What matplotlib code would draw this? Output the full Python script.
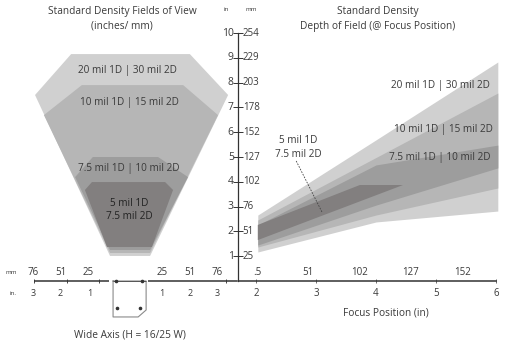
from matplotlib import pyplot as plt

W, H = 506, 345
plt.rcParams['font.family'] = ['Open Sans', 'DejaVu Sans']
TEXT = '#3a3a3a'

# scales of the picture: pixels per inch and where the zero of each axis sits
FOV_X0, FOV_SCALE = 125, 30.6
DOF_X2, DOF_SCALE = 256, 60
Y0, Y_SCALE = 281, 24.8

# field of view outlines, inches (wide axis, distance)
fov_20_x = [-1.76, 2.12, 3.37, 0.82, -0.49, -2.94]
fov_20_y = [9.15, 9.15, 7.50, 1.01, 1.01, 7.50]
fov_10_x = [-1.41, 1.90, 3.04, 0.82, -0.49, -2.65]
fov_10_y = [7.90, 7.90, 6.69, 1.13, 1.13, 6.69]
fov_75_x = [-1.05, 1.08, 2.06, 0.82, -0.49, -1.63]
fov_75_y = [5.00, 5.00, 4.19, 1.25, 1.25, 4.19]
fov_5_x = [-1.08, 1.31, 1.57, 0.88, -0.59, -1.31]
fov_5_y = [3.99, 3.99, 3.67, 1.37, 1.37, 3.67]

# depth of field bands, inches (focus position, near / far)
focus = [2.03, 4.0, 6.03]
dof_20_far = [2.66, 5.69, 8.83]
dof_20_near = [1.17, 2.38, 2.82]
dof_10_far = [2.46, 4.98, 7.58]
dof_10_near = [1.37, 2.66, 3.75]
dof_75_far = [2.26, 4.68, 5.48]
dof_75_near = [1.45, 3.06, 4.56]
dof_5_x = [2.03, 3.73, 4.45, 2.03]
dof_5_y = [2.26, 3.87, 3.87, 1.65]

colors = ['#d0d0d0', '#b6b6b6', '#9d9d9d', '#827f7f']

y_in = [1, 2, 3, 4, 5, 6, 7, 8, 9, 10]
y_mm = [25, 51, 76, 102, 127, 152, 178, 203, 229, 254]
wide_ticks = [-2.96, -1.9, -0.85, 3.3]
wide_in_x = [-3, -2.13, -1.16, 1.2, 2.12, 3]
wide_in = ['3', '2', '1', '1', '2', '3']
wide_mm_x = [-3, -2.09, -1.21, 1.21, 2.12, 3]
wide_mm = ['76', '51', '25', '25', '51', '76']
focus_ticks = [2, 3, 4, 5, 6]
focus_mm_x = [2.03, 2.87, 3.72, 4.58, 5.45]
focus_mm = ['.5', '51', '102', '127', '152']

fig = plt.figure(figsize=(W / 100, H / 100), dpi=100)
left = fig.add_axes([0, 0, 1, 1])
right = fig.add_axes([0, 0, 1, 1])
right.patch.set_alpha(0)

left.set_xlim(-FOV_X0 / FOV_SCALE, (W - FOV_X0) / FOV_SCALE)
left.set_ylim((Y0 - H) / Y_SCALE, Y0 / Y_SCALE)
right.set_xlim(2 - DOF_X2 / DOF_SCALE, 2 + (W - DOF_X2) / DOF_SCALE)
right.set_ylim((Y0 - H) / Y_SCALE, Y0 / Y_SCALE)

# field of view
left.fill(fov_20_x, fov_20_y, color=colors[0], lw=0)
left.fill(fov_10_x, fov_10_y, color=colors[1], lw=0)
left.fill(fov_75_x, fov_75_y, color=colors[2], lw=0)
left.fill(fov_5_x, fov_5_y, color=colors[3], lw=0)

# depth of field
right.fill_between(focus, dof_20_near, dof_20_far, color=colors[0], lw=0)
right.fill_between(focus, dof_10_near, dof_10_far, color=colors[1], lw=0)
right.fill_between(focus, dof_75_near, dof_75_far, color=colors[2], lw=0)
right.fill(dof_5_x, dof_5_y, color=colors[3], lw=0)

# axes
for side in ['top', 'right', 'left', 'bottom']:
    left.spines[side].set_visible(False)
left.set_yticks([])
left.spines['bottom'].set_position(('data', 0))
left.set_xticks(wide_ticks)
left.set_xticklabels([])
left.tick_params(axis='x', direction='inout', length=3, width=0.7, color='#444444')
left.hlines(0, -2.96, -0.52, color='#333333', lw=1.1)
left.hlines(0, 0.75, 3.66, color='#333333', lw=1.1)

right.spines['top'].set_visible(False)
right.spines['right'].set_visible(False)
right.spines['left'].set_position(('data', 1.7))
right.spines['left'].set_bounds(0, 10)
right.spines['bottom'].set_position(('data', 0))
right.spines['bottom'].set_bounds(1.7, 6)
right.spines['left'].set_linewidth(0.9)
right.spines['left'].set_color('#333333')
right.spines['bottom'].set_linewidth(1.1)
right.spines['bottom'].set_color('#333333')
right.set_yticks(y_in)
right.set_yticklabels([])
right.set_xticks(focus_ticks)
right.set_xticklabels([])
right.tick_params(axis='y', direction='inout', length=7, width=0.7, color='#333333')
right.tick_params(axis='x', direction='inout', length=3, width=0.6, color='#555555')

# tick labels
for v, mm in zip(y_in, y_mm):
    right.text(1.63, v, str(v), ha='right', va='center', fontsize=7.5, color=TEXT)
    right.text(1.78, v, str(mm), ha='left', va='center', fontsize=7, color=TEXT)
right.text(1.5, 10.95, 'in', ha='center', va='center', fontsize=4.5, color=TEXT)
right.text(1.92, 10.95, 'mm', ha='center', va='center', fontsize=4.5, color=TEXT)

for x, s in zip(wide_mm_x, wide_mm):
    left.text(x, 0.33, s, ha='center', va='center', fontsize=7, color=TEXT)
for x, s in zip(wide_in_x, wide_in):
    left.text(x, -0.49, s, ha='center', va='center', fontsize=6.5, color=TEXT)
left.text(-3.72, 0.33, 'mm', ha='center', va='center', fontsize=4.5, color=TEXT)
left.text(-3.66, -0.49, 'in.', ha='center', va='center', fontsize=4.5, color=TEXT)

for x, s in zip(focus_mm_x, focus_mm):
    right.text(x, 0.33, s, ha='center', va='center', fontsize=7, color=TEXT)
for x in focus_ticks:
    right.text(x, -0.49, str(x), ha='center', va='center', fontsize=7, color=TEXT)

# imager outline on the wide axis
icon_x = [-0.39, 0.69, 0.69, 0.43, -0.39, -0.39]
icon_y = [0, 0, -1.17, -1.45, -1.45, 0]
left.plot(icon_x, icon_y, color='#8a8a8a', lw=0.8)
left.hlines(0, -0.39, 0.69, color='#555555', lw=0.7)
left.plot([-0.29, 0.56, -0.26, 0.49], [0, 0, -1.09, -1.09], ls='', marker='o', ms=1.6, color='#333333')

# titles and band labels
left.text(-0.1, 10.85, 'Standard Density Fields of View', ha='center', va='center', fontsize=7.3, color=TEXT)
left.text(-0.1, 10.28, '(inches/ mm)', ha='center', va='center', fontsize=7.3, color=TEXT)
right.text(4.03, 10.85, 'Standard Density', ha='center', va='center', fontsize=7.3, color=TEXT)
right.text(4.03, 10.28, 'Depth of Field (@ Focus Position)', ha='center', va='center', fontsize=7.3, color=TEXT)
left.text(0.16, -2.18, 'Wide Axis (H = 16/25 W)', ha='center', va='center', fontsize=7.3, color=TEXT)
right.text(4.17, -1.29, 'Focus Position (in)', ha='center', va='center', fontsize=7.3, color=TEXT)

left.text(0.07, 8.47, '20 mil 1D | 30 mil 2D', ha='center', va='center', fontsize=7.2, color=TEXT)
left.text(0.16, 7.18, '10 mil 1D | 15 mil 2D', ha='center', va='center', fontsize=7.2, color=TEXT)
left.text(0.13, 4.52, '7.5 mil 1D | 10 mil 2D', ha='center', va='center', fontsize=7.2, color=TEXT)
left.text(0.13, 3.14, '5 mil 1D', ha='center', va='center', fontsize=7.2, color='#222222')
left.text(0.13, 2.61, '7.5 mil 2D', ha='center', va='center', fontsize=7.2, color='#222222')

right.text(5.08, 7.90, '20 mil 1D | 30 mil 2D', ha='center', va='center', fontsize=7.2, color=TEXT)
right.text(5.12, 6.09, '10 mil 1D | 15 mil 2D', ha='center', va='center', fontsize=7.2, color=TEXT)
right.text(5.07, 4.96, '7.5 mil 1D | 10 mil 2D', ha='center', va='center', fontsize=7.2, color=TEXT)
right.text(2.70, 5.65, '5 mil 1D', ha='center', va='center', fontsize=7.2, color=TEXT)
right.text(2.70, 5.12, '7.5 mil 2D', ha='center', va='center', fontsize=7.2, color=TEXT)
right.plot([2.67, 3.10], [4.84, 2.78], color='#444444', lw=0.6, ls=(0, (2, 1.5)))

fig.savefig('out.png', dpi=100)
